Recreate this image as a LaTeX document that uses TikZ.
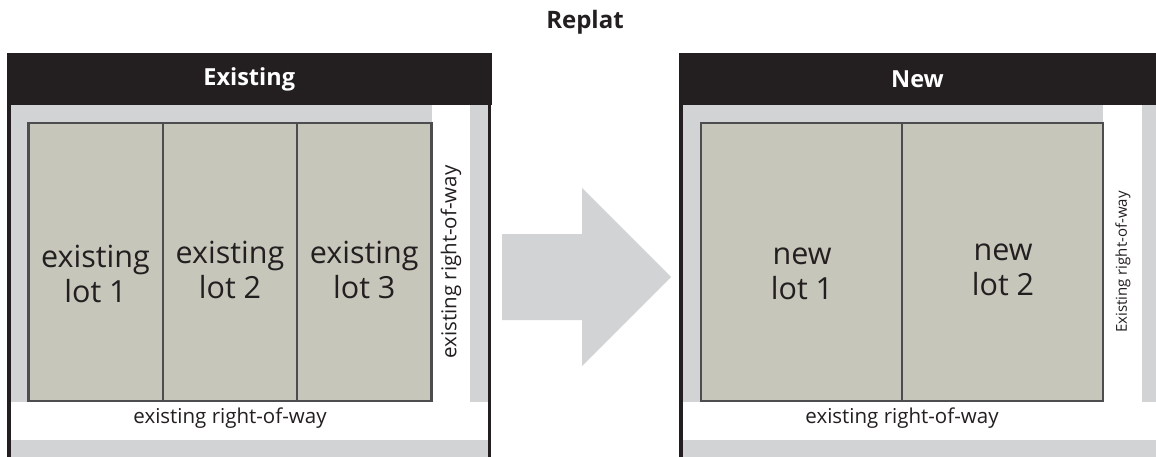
\documentclass[tikz,border=0pt]{standalone}
\usepackage{fontspec}
\setmainfont{Open Sans}
\usepackage{tikz}
\usetikzlibrary{positioning}
\definecolor{hexcolor0x231f20}{rgb}{0.137,0.122,0.125}
\definecolor{hexcolor0xd1d3d4}{rgb}{0.820,0.827,0.831}
\definecolor{hexcolor0xc6c6ba}{rgb}{0.776,0.776,0.729}
\definecolor{hexcolor0x4d4d4f}{rgb}{0.302,0.302,0.310}
\definecolor{mywhite}{rgb}{1.000,1.000,1.000}
\tikzstyle{header}=[rectangle,fill=hexcolor0x231f20,text=mywhite,font=\fontsize{23.5}{28}\selectfont\bfseries,inner sep=0,minimum height=52pt]
\tikzstyle{lot}=[rectangle,fill=hexcolor0xc6c6ba,draw=hexcolor0x4d4d4f,line width=2.5pt,inner sep=0,minimum height=278pt]
\tikzstyle{lotlabel}=[align=center,text=hexcolor0x231f20,font=\fontsize{30.5}{35}\selectfont]
\tikzstyle{way}=[text=hexcolor0x231f20,font=\fontsize{20.5}{24}\selectfont]
\tikzstyle{smallway}=[text=hexcolor0x231f20,font=\fontsize{15}{18}\selectfont]
\tikzstyle{frame}=[draw=hexcolor0x231f20,line width=3.5pt]

\begin{document}
\begin{tikzpicture}[x=1pt,y=-1pt]
	\useasboundingbox (0,0) rectangle (1156,457);
	% title
	\node [text=hexcolor0x231f20,font=\fontsize{24}{28}\selectfont\bfseries] (0) at (585,22) {Replat};

	% existing
	\fill [hexcolor0xd1d3d4] (9,104) rectangle (489,457);
	\fill [mywhite] (432,104) rectangle (470,402);
	\fill [mywhite] (9,402) rectangle (489,440);
	\draw [style=frame] (9,80) -- (9,457);
	\draw [style=frame] (489.5,80) -- (489.5,457);
	\node [style=header,minimum width=484.5pt] (1) at (249.25,79) {Existing};
	\node [style=lot,minimum width=134.33pt] (2) at (95.67,262) {};
	\node [style=lot,minimum width=134.33pt] (3) at (230,262) {};
	\node [style=lot,minimum width=134.33pt] (4) at (364.33,262) {};
	\node [style=lotlabel] (5) at (95.5,274) {existing\\lot 1};
	\node [style=lotlabel] (6) at (230,270) {existing\\lot 2};
	\node [style=lotlabel] (7) at (364.3,270) {existing\\lot 3};
	\node [style=way,rotate=90] (8) at (451,262) {existing right-of-way};
	\node [style=way] (9) at (230,418) {existing right-of-way};

	% arrow
	\fill [hexcolor0xd1d3d4] (502,234) -- (582,234) -- (582,188) -- (671,277) -- (582,366) -- (582,320) -- (502,320) -- cycle;

	% new
	\fill [hexcolor0xd1d3d4] (681,104) rectangle (1156,457);
	\fill [mywhite] (1103,104) rectangle (1142,402);
	\fill [mywhite] (681,402) rectangle (1156,440);
	\draw [style=frame] (681,80) -- (681,457);
	\node [style=header,minimum width=477pt] (10) at (917.5,79) {New};
	\node [style=lot,minimum width=200.75pt] (11) at (801.6,262) {};
	\node [style=lot,minimum width=200.75pt] (12) at (1002.4,262) {};
	\node [style=lotlabel] (13) at (802,274) {new\\lot 1};
	\node [style=lotlabel] (14) at (1003,270) {new\\lot 2};
	\node [style=smallway,rotate=90] (15) at (1123,262) {Existing right-of-way};
	\node [style=way] (16) at (902,418) {existing right-of-way};
\end{tikzpicture}
\end{document}
